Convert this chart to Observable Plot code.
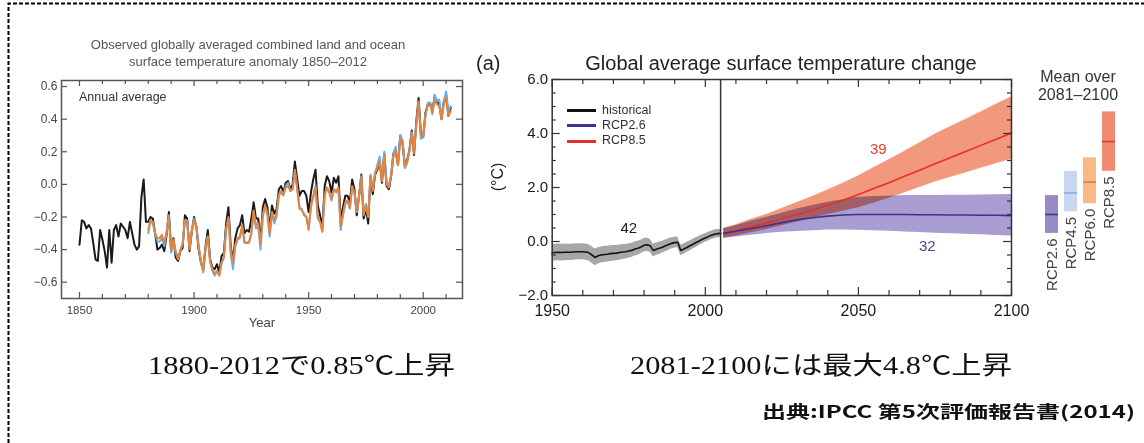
<!DOCTYPE html>
<html><head><meta charset="utf-8">
<script src="https://cdn.jsdelivr.net/npm/d3@7"></script>
<script src="https://cdn.jsdelivr.net/npm/@observablehq/plot@0.6"></script>
<style>
html,body{margin:0;padding:0;background:#fff;}
#root{position:relative;width:1144px;height:443px;overflow:hidden;font-family:"Liberation Sans",Arial,Helvetica,sans-serif;}
.abs{position:absolute;white-space:nowrap;line-height:1;}
.plotbox{position:absolute;top:0;}
.cap{position:absolute;white-space:nowrap;line-height:1;color:#111;}
</style></head>
<body><div id="root">
<svg class="abs" style="left:0;top:0" width="1144" height="443"><path d="M8.5,443V3.5H1144" fill="none" stroke="#000" stroke-width="2" stroke-dasharray="4,2"/></svg>
<div id="leftPlot" class="plotbox" style="left:0"></div>
<div id="rightPlot" class="plotbox" style="left:470px"></div>
<div id="barPlot" class="plotbox" style="left:1030px"></div>

<div class="abs" style="left:48px;width:400px;text-align:center;top:38px;font-size:13px;color:#555">Observed globally averaged combined land and ocean</div>
<div class="abs" style="left:48px;width:400px;text-align:center;top:55px;font-size:13px;color:#555">surface temperature anomaly 1850–2012</div>
<div class="abs" style="left:79px;top:91px;font-size:12.5px;color:#333">Annual average</div>
<div class="abs" style="left:212px;width:100px;text-align:center;top:316px;font-size:13px;color:#444">Year</div>

<div class="abs" style="left:476px;top:53px;font-size:20px;color:#222">(a)</div>
<div class="abs" style="left:551px;width:460px;text-align:center;top:53px;font-size:20px;color:#222">Global average surface temperature change</div>
<div class="abs" style="left:468px;width:60px;text-align:center;top:169px;font-size:16px;color:#222;transform:rotate(-90deg)">(°C)</div>

<div class="abs" style="left:567px;top:109.2px;width:29px;height:3px;background:#111"></div>
<div class="abs" style="left:567px;top:124.2px;width:29px;height:3px;background:#3b348f"></div>
<div class="abs" style="left:567px;top:139.5px;width:29px;height:3px;background:#e4302a"></div>
<div class="abs" style="left:602px;top:104.4px;font-size:12.5px;color:#333">historical</div>
<div class="abs" style="left:602px;top:119.4px;font-size:12.5px;color:#333">RCP2.6</div>
<div class="abs" style="left:602px;top:134.4px;font-size:12.5px;color:#333">RCP8.5</div>

<div class="abs" style="left:1028px;width:100px;text-align:center;top:68.5px;font-size:16px;color:#333">Mean over</div>
<div class="abs" style="left:1028px;width:100px;text-align:center;top:86.5px;font-size:16px;color:#333">2081–2100</div>

<div id="cap1" class="cap" style="left:148px;top:353px;font-size:25px;font-family:'Liberation Serif','Noto Sans CJK JP',serif;transform-origin:left center">1880-2012で0.85℃上昇</div>
<div id="cap2" class="cap" style="left:630px;top:353px;font-size:25px;font-family:'Liberation Serif','Noto Sans CJK JP',serif;transform-origin:left center">2081-2100には最大4.8℃上昇</div>
<div id="cap3" class="cap" style="right:9px;top:402px;font-size:17px;font-weight:bold;font-family:'Noto Sans CJK JP',sans-serif;transform-origin:right center">出典:IPCC 第5次評価報告書(2014)</div>
</div>
<script>
// ---------- Left panel data: annual anomalies (°C, rel. 1961–1990) ----------
const hadStart = 1850;
const hadcrut = [-0.37,-0.22,-0.23,-0.27,-0.25,-0.27,-0.36,-0.46,-0.47,-0.28,
-0.34,-0.41,-0.51,-0.28,-0.48,-0.28,-0.25,-0.32,-0.24,-0.26,
-0.28,-0.33,-0.23,-0.30,-0.37,-0.40,-0.38,-0.08,0.03,-0.23,
-0.23,-0.20,-0.21,-0.30,-0.40,-0.39,-0.37,-0.41,-0.31,-0.17,
-0.41,-0.33,-0.45,-0.47,-0.41,-0.39,-0.19,-0.21,-0.41,-0.29,
-0.20,-0.26,-0.40,-0.48,-0.52,-0.38,-0.28,-0.46,-0.51,-0.52,
-0.49,-0.54,-0.44,-0.42,-0.24,-0.14,-0.38,-0.47,-0.33,-0.27,
-0.25,-0.19,-0.30,-0.28,-0.29,-0.21,-0.11,-0.21,-0.21,-0.35,
-0.14,-0.09,-0.14,-0.27,-0.13,-0.18,-0.15,-0.03,-0.01,-0.05,
0.01,0.02,-0.03,0.00,0.14,0.03,-0.07,-0.04,-0.04,-0.07,
-0.17,-0.05,0.03,0.09,-0.13,-0.19,-0.26,-0.01,0.05,0.02,
-0.05,0.04,0.01,0.05,-0.22,-0.14,-0.07,-0.07,-0.11,0.03,
-0.03,-0.19,-0.07,0.06,-0.21,-0.15,-0.24,0.05,-0.06,0.06,
0.09,0.14,0.01,0.19,-0.01,-0.03,0.05,0.19,0.20,0.12,
0.30,0.25,0.11,0.15,0.21,0.33,0.18,0.39,0.53,0.31,
0.29,0.44,0.49,0.50,0.45,0.54,0.51,0.49,0.40,0.51,
0.55,0.42,0.47];
const obsStart = 1880;
const mlost = [-0.28,-0.22,-0.24,-0.30,-0.33,-0.33,-0.31,-0.36,-0.30,-0.20,
-0.40,-0.34,-0.42,-0.46,-0.40,-0.37,-0.22,-0.23,-0.40,-0.29,
-0.22,-0.26,-0.38,-0.47,-0.53,-0.40,-0.32,-0.47,-0.52,-0.55,
-0.53,-0.56,-0.48,-0.45,-0.28,-0.20,-0.40,-0.48,-0.37,-0.33,
-0.32,-0.25,-0.35,-0.36,-0.35,-0.30,-0.16,-0.25,-0.24,-0.37,
-0.18,-0.13,-0.17,-0.30,-0.17,-0.22,-0.18,-0.06,-0.04,-0.06,
-0.02,-0.01,-0.04,-0.03,0.09,-0.02,-0.14,-0.16,-0.18,-0.20,
-0.28,-0.13,-0.07,-0.01,-0.20,-0.23,-0.29,-0.07,-0.02,-0.05,
-0.09,-0.03,-0.04,-0.02,-0.26,-0.18,-0.11,-0.10,-0.14,-0.01,
-0.05,-0.17,-0.07,0.04,-0.19,-0.13,-0.20,0.05,-0.04,0.07,
0.10,0.14,0.02,0.18,0.00,-0.02,0.05,0.17,0.20,0.12,
0.28,0.26,0.11,0.14,0.21,0.31,0.19,0.37,0.51,0.30,
0.30,0.43,0.48,0.49,0.44,0.52,0.49,0.48,0.40,0.49,
0.53,0.42,0.45];
const giss = [-0.30,-0.22,-0.23,-0.30,-0.35,-0.35,-0.33,-0.38,-0.29,-0.19,
-0.42,-0.34,-0.41,-0.45,-0.41,-0.36,-0.22,-0.22,-0.39,-0.28,
-0.21,-0.26,-0.38,-0.48,-0.54,-0.39,-0.32,-0.48,-0.53,-0.56,
-0.53,-0.56,-0.48,-0.45,-0.27,-0.21,-0.43,-0.52,-0.38,-0.34,
-0.33,-0.26,-0.36,-0.36,-0.36,-0.30,-0.17,-0.27,-0.26,-0.40,
-0.20,-0.14,-0.19,-0.32,-0.18,-0.24,-0.20,-0.07,-0.05,-0.07,
-0.01,0.01,-0.04,-0.03,0.08,-0.03,-0.15,-0.15,-0.19,-0.20,
-0.27,-0.14,-0.08,-0.01,-0.21,-0.23,-0.29,-0.06,-0.02,-0.05,
-0.10,-0.03,-0.05,-0.03,-0.28,-0.19,-0.12,-0.10,-0.15,-0.02,
-0.05,-0.17,-0.08,0.05,-0.18,-0.12,-0.20,0.06,-0.03,0.07,
0.12,0.17,0.03,0.20,0.02,-0.01,0.06,0.19,0.23,0.13,
0.30,0.27,0.10,0.13,0.20,0.32,0.21,0.36,0.50,0.28,
0.29,0.42,0.50,0.50,0.43,0.55,0.51,0.52,0.41,0.51,
0.57,0.45,0.48];
const leftXTicks = [1850, 1900, 1950, 2000];
const leftYTicks = [-0.6, -0.4, -0.2, 0.0, 0.2, 0.4, 0.6];

// ---------- Right panel data (°C, rel. 1986–2005) ----------
const histStart = 1950;
const histMean = [-0.42,-0.41,-0.40,-0.41,-0.40,-0.40,-0.40,-0.39,-0.38,-0.38,
-0.38,-0.39,-0.42,-0.50,-0.59,-0.53,-0.50,-0.48,-0.47,-0.45,
-0.44,-0.43,-0.41,-0.39,-0.38,-0.35,-0.33,-0.28,-0.25,-0.20,
-0.14,-0.12,-0.16,-0.33,-0.29,-0.25,-0.21,-0.16,-0.11,-0.07,
-0.04,-0.03,-0.33,-0.28,-0.22,-0.16,-0.10,-0.04,0.02,0.08,
0.13,0.18,0.23,0.27,0.29,0.30];
const histSpread = [0.31,0.31,0.31,0.31,0.31,0.30,0.30,0.30,0.30,0.30,
0.30,0.30,0.30,0.31,0.31,0.30,0.30,0.30,0.29,0.29,
0.29,0.28,0.28,0.28,0.27,0.27,0.26,0.26,0.26,0.25,
0.25,0.25,0.24,0.24,0.23,0.23,0.22,0.22,0.21,0.21,
0.20,0.20,0.20,0.19,0.19,0.18,0.18,0.18,0.17,0.17,
0.16,0.16,0.16,0.16,0.15,0.15];
const rcpYears = [2006,2010,2015,2020,2025,2030,2035,2040,2045,2050,2055,2060,2065,2070,2075,2080,2085,2090,2095,2100];
const rcp85Mean = [0.30,0.40,0.55,0.68,0.84,1.00,1.16,1.34,1.53,1.74,1.96,2.18,2.42,2.64,2.88,3.10,3.33,3.56,3.79,4.02];
const rcp85Low  = [0.12,0.20,0.32,0.44,0.58,0.72,0.86,1.00,1.12,1.25,1.42,1.60,1.80,2.00,2.20,2.37,2.54,2.71,2.88,3.05];
const rcp85High = [0.48,0.62,0.82,1.00,1.22,1.44,1.67,1.91,2.16,2.43,2.73,3.03,3.33,3.65,3.97,4.25,4.52,4.80,5.08,5.35];
const rcp26Mean = [0.30,0.38,0.48,0.58,0.70,0.80,0.88,0.94,0.98,1.00,1.00,1.00,1.00,0.99,0.99,0.98,0.98,0.97,0.97,0.96];
const rcp26Low  = [0.12,0.17,0.23,0.30,0.34,0.37,0.40,0.43,0.43,0.42,0.40,0.38,0.35,0.33,0.31,0.29,0.27,0.25,0.22,0.20];
const rcp26High = [0.48,0.58,0.75,0.90,1.05,1.20,1.33,1.45,1.55,1.63,1.67,1.68,1.70,1.70,1.70,1.71,1.71,1.72,1.73,1.74];
const boundaryYear = 2005;
const rightXTicks = [1950, 2000, 2050, 2100];
const rightYTicks = [-2, 0, 2, 4, 6];
const annotations = [
  {x: 1975, y: 0.48, text: "42", color: "#222"},
  {x: 2056.5, y: 3.41, text: "39", color: "#e8402c"},
  {x: 2072.5, y: -0.19, text: "32", color: "#4b45a0"}
];

// ---------- Bar panel: mean over 2081–2100 ----------
const scenarios = ["RCP2.6", "RCP4.5", "RCP6.0", "RCP8.5"];
const scenMean = [1.0, 1.8, 2.2, 3.7];
const scenLow  = [0.3, 1.1, 1.4, 2.6];
const scenHigh = [1.7, 2.6, 3.1, 4.8];
const scenFill = ["#9184c2", "#c6d4ee", "#f8b57f", "#f0866a"];
const scenLine = ["#3d3592", "#86acdc", "#e87a2c", "#e3382a"];

// ---------- Build tables ----------
const had = hadcrut.map((v, i) => ({year: hadStart + i, v}));
const ml = mlost.map((v, i) => ({year: obsStart + i, v}));
const gi = giss.map((v, i) => ({year: obsStart + i, v}));
const hist = histMean.map((v, i) => ({year: histStart + i, mean: v, lo: v - histSpread[i], hi: v + histSpread[i]}));
const r85 = rcpYears.map((y, i) => ({year: y, mean: rcp85Mean[i], lo: rcp85Low[i], hi: rcp85High[i]}));
const r26 = rcpYears.map((y, i) => ({year: y, mean: rcp26Mean[i], lo: rcp26Low[i], hi: rcp26High[i]}));
const bars = scenarios.map((s, i) => ({name: s, mean: scenMean[i], lo: scenLow[i], hi: scenHigh[i], fill: scenFill[i], line: scenLine[i]}));

// ---------- Left plot ----------
const LW = 470, LH = 340, LmL = 61, LmR = 8, LmT = 80, LmB = 42;
const LFW = LW - LmL - LmR, LFH = LH - LmT - LmB;
const leftMinor = d3.range(1850, 2011, 10).filter(d => !leftXTicks.includes(d));
const leftPlot = Plot.plot({
  width: LW, height: LH, marginLeft: LmL, marginRight: LmR, marginTop: LmT, marginBottom: LmB,
  x: {domain: [1842.14, 2017.15]},
  y: {domain: [-0.70, 0.637]},
  style: {fontFamily: "'Liberation Sans', Arial, sans-serif", color: "#444", background: "transparent", overflow: "visible"},
  marks: [
    Plot.line(had, {x: "year", y: "v", stroke: "#1a1a1a", strokeWidth: 2}),
    Plot.line(gi, {x: "year", y: "v", stroke: "#6aaee6", strokeWidth: 2}),
    Plot.line(ml, {x: "year", y: "v", stroke: "#e4843f", strokeWidth: 2}),
    Plot.frame({stroke: "#555", strokeWidth: 1.5}),
    Plot.ruleX(leftXTicks, {insetTop: LFH - 6, stroke: "#555", strokeWidth: 1.2}),
    Plot.ruleX(leftMinor, {insetTop: LFH - 4, stroke: "#555", strokeWidth: 1.2}),
    Plot.ruleX(leftXTicks, {insetBottom: LFH - 6, stroke: "#555", strokeWidth: 1.2}),
    Plot.ruleX(leftMinor, {insetBottom: LFH - 4, stroke: "#555", strokeWidth: 1.2}),
    Plot.ruleY(leftYTicks, {insetRight: LFW - 6, stroke: "#555", strokeWidth: 1.2}),
    Plot.ruleY(leftYTicks, {insetLeft: LFW - 6, stroke: "#555", strokeWidth: 1.2}),
    Plot.axisX({ticks: leftXTicks, tickSize: 0, tickPadding: 7, tickFormat: d => String(d), label: null, fontSize: 11.5}),
    Plot.axisY({ticks: leftYTicks, tickSize: 0, tickPadding: 4, tickFormat: d3.format(".1f"), label: null, fontSize: 12})
  ]
});
document.getElementById("leftPlot").append(leftPlot);

// ---------- Right plot ----------
const RW = 560, RH = 340, RmL = 81.7, RmR = 19, RmT = 79, RmB = 45;
const RFW = RW - RmL - RmR, RFH = RH - RmT - RmB;
const rightXMinor = d3.range(1950, 2101, 10).filter(d => !rightXTicks.includes(d));
const rightYMinor = d3.range(-2, 6.01, 0.5).filter(d => !rightYTicks.includes(d));
const tickStyle = {stroke: "#333", strokeWidth: 1.2};
const rightPlot = Plot.plot({
  width: RW, height: RH, marginLeft: RmL, marginRight: RmR, marginTop: RmT, marginBottom: RmB,
  x: {domain: [1950, 2100]},
  y: {domain: [-2, 6]},
  style: {fontFamily: "'Liberation Sans', Arial, sans-serif", color: "#1a1a1a", background: "transparent", overflow: "visible"},
  marks: [
    Plot.areaY(hist, {x: "year", y1: "lo", y2: "hi", fill: "#8a8a8a", fillOpacity: 0.75}),
    Plot.areaY(r85, {x: "year", y1: "lo", y2: "hi", fill: "#ee7651", fillOpacity: 0.75}),
    Plot.areaY(r26, {x: "year", y1: "lo", y2: "hi", fill: "#8474bf", fillOpacity: 0.7, mixBlendMode: "multiply"}),
    Plot.line(hist, {x: "year", y: "mean", stroke: "#111", strokeWidth: 1.6}),
    Plot.line(r85, {x: "year", y: "mean", stroke: "#e4302a", strokeWidth: 1.6}),
    Plot.line(r26, {x: "year", y: "mean", stroke: "#3b348f", strokeWidth: 1.6}),
    Plot.ruleX([boundaryYear], {stroke: "#333", strokeWidth: 1.5}),
    Plot.frame({stroke: "#333", strokeWidth: 1.5}),
    Plot.ruleX(rightXTicks, {insetTop: RFH - 8, ...tickStyle}),
    Plot.ruleX(rightXMinor, {insetTop: RFH - 5, ...tickStyle}),
    Plot.ruleX(rightXTicks, {insetBottom: RFH - 8, ...tickStyle}),
    Plot.ruleX(rightXMinor, {insetBottom: RFH - 5, ...tickStyle}),
    Plot.ruleY(rightYTicks, {insetRight: RFW - 8, ...tickStyle}),
    Plot.ruleY(rightYMinor, {insetRight: RFW - 4, ...tickStyle}),
    Plot.ruleY(rightYTicks, {insetLeft: RFW - 8, ...tickStyle}),
    Plot.ruleY(rightYMinor, {insetLeft: RFW - 4, ...tickStyle}),
    Plot.axisX({ticks: rightXTicks, tickSize: 0, tickPadding: 9, tickFormat: d => String(d), label: null, fontSize: 16}),
    Plot.axisY({ticks: rightYTicks, tickSize: 0, tickPadding: 4, tickFormat: d3.format(".1f"), label: null, fontSize: 15}),
    ...annotations.map(a => Plot.text([a], {x: "x", y: "y", text: "text", fill: a.color, fontSize: 15}))
  ]
});
document.getElementById("rightPlot").append(rightPlot);

// ---------- Bar plot ----------
const barPlot = Plot.plot({
  width: 114, height: 340, marginLeft: 0, marginRight: 0, marginTop: 79, marginBottom: 45,
  x: {type: "band", domain: scenarios, range: [14, 86], paddingInner: 0.32, paddingOuter: 0, axis: null},
  y: {domain: [-2, 6], axis: null},
  style: {fontFamily: "'Liberation Sans', Arial, sans-serif", color: "#333", background: "transparent", overflow: "visible"},
  marks: [
    ...bars.map(b => Plot.barY([b], {x: "name", y1: "lo", y2: "hi", fill: b.fill, fillOpacity: 0.95})),
    ...bars.map(b => Plot.tickY([b], {x: "name", y: "mean", stroke: b.line, strokeWidth: 1.6})),
    Plot.text(bars, {x: "name", y: "lo", text: "name", rotate: -90, textAnchor: "end", lineAnchor: "middle", dy: 5, fontSize: 15, fill: "#444"})
  ]
});
document.getElementById("barPlot").append(barPlot);

// ---------- Fit captions to their widths ----------
function fit() {
  for (const [id, w] of [["cap1", 307], ["cap2", 382], ["cap3", 373]]) {
    const el = document.getElementById(id);
    el.style.transform = "none";
    const r = el.getBoundingClientRect().width;
    el.style.transform = `scaleX(${w / r})`;
  }
}
fit();
if (document.fonts && document.fonts.ready) document.fonts.ready.then(fit);
</script>
</body></html>
